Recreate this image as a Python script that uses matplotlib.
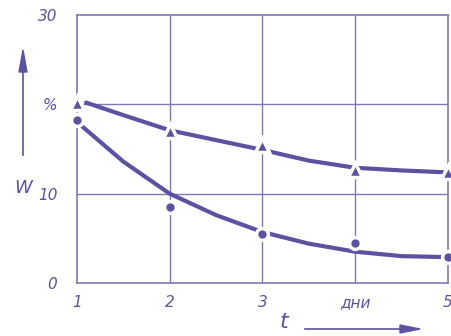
import matplotlib.pyplot as plt

# Измеренные точки (W, % по дням)
t_points = [1, 2, 3, 4, 5]
w_triangles = [20.2, 17.0, 15.4, 12.7, 12.4]
w_circles = [18.2, 8.5, 5.5, 4.5, 2.9]

# Сглаженные кривые
t_curve_tri = [1.1, 1.5, 2.0, 2.5, 3.0, 3.5, 4.0, 4.5, 4.95]
w_curve_tri = [20.2, 18.8, 17.1, 16.0, 14.9, 13.7, 12.9, 12.6, 12.4]
t_curve_circ = [1.05, 1.5, 2.0, 2.5, 3.0, 3.5, 4.0, 4.5, 4.95]
w_curve_circ = [17.6, 13.6, 10.0, 7.6, 5.7, 4.4, 3.5, 3.0, 2.9]

x_ticks = [1, 2, 3, 4, 5]
x_labels = ['1', '2', '3', 'дни', '5']
y_ticks = [0, 10, 20, 30]
y_labels = ['0', '10', '%', '30']

ink = '#5b52a0'
grid_ink = '#7f78b8'

fig = plt.figure(figsize=(4.52, 3.36), dpi=100)
ax = fig.add_axes([0.170, 0.158, 0.821, 0.797])

ax.set_xlim(1, 5)
ax.set_ylim(0, 30)

# сетка
for x in [2, 3, 4]:
    ax.axvline(x, color=grid_ink, lw=1.0, zorder=1)
for y in [10, 20]:
    ax.axhline(y, color=grid_ink, lw=1.0, zorder=1)

ax.plot(t_curve_tri, w_curve_tri, color=ink, lw=3.0, solid_capstyle='round',
        solid_joinstyle='round', zorder=2)
ax.plot(t_curve_circ, w_curve_circ, color=ink, lw=3.0, solid_capstyle='round',
        solid_joinstyle='round', zorder=2)
ax.plot(t_points, w_triangles, '^', color=ink, ms=10, mec='white', mew=2.5,
        clip_on=False, zorder=3)
ax.plot(t_points, w_circles, 'o', color=ink, ms=8.5, mec='white', mew=2.5,
        clip_on=False, zorder=3)

for s in ax.spines.values():
    s.set_color(grid_ink)
    s.set_linewidth(1.2)

ax.set_xticks(x_ticks)
ax.set_xticklabels(x_labels)
ax.set_yticks(y_ticks)
ax.set_yticklabels(y_labels)
ax.tick_params(length=0, colors=ink, labelsize=11)
ax.tick_params(axis='x', pad=9)
ax.tick_params(axis='y', pad=14)
for lab in ax.get_xticklabels() + ax.get_yticklabels():
    lab.set_fontstyle('italic')
    lab.set_color(ink)

# стрелки осей и подписи
fig.add_artist(plt.Line2D([23 / 452, 23 / 452], [1 - 155 / 336, 1 - 70 / 336],
                          color=ink, lw=1.2))
fig.add_artist(plt.Polygon([[19 / 452, 1 - 72 / 336], [27 / 452, 1 - 72 / 336],
                            [23 / 452, 1 - 50 / 336]], color=ink))
fig.text(23 / 452, 1 - 188 / 336, 'W', color=ink, fontsize=13, style='italic',
         ha='center', va='center')

fig.add_artist(plt.Line2D([305 / 452, 402 / 452], [1 - 329 / 336, 1 - 329 / 336],
                          color=ink, lw=1.2))
fig.add_artist(plt.Polygon([[400 / 452, 1 - 325 / 336], [400 / 452, 1 - 333 / 336],
                            [420 / 452, 1 - 329 / 336]], color=ink))
fig.text(284 / 452, 1 - 322 / 336, 't', color=ink, fontsize=16, style='italic',
         ha='center', va='center')

fig.savefig('out.png', dpi=100, facecolor='white')
